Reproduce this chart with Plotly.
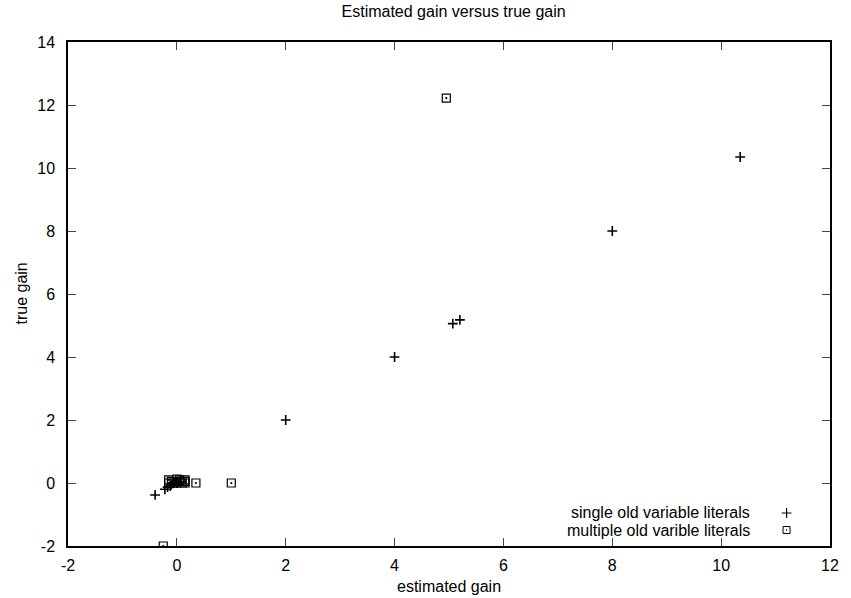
import plotly.graph_objects as go

# single old variable literals (+)
single_x = [-0.40, -0.22, -0.17, -0.12, -0.10, -0.05, 0.00, 0.05, 2.00, 4.00, 5.07, 5.20, 8.00, 10.35]
single_y = [-0.38, -0.20, -0.13, -0.10, -0.05, 0.00, 0.00, 0.05, 2.00, 4.00, 5.06, 5.18, 8.00, 10.35]

# multiple old varible literals (squares)
multi_x = [-0.15, -0.15, -0.10, -0.05, 0.00, 0.00, 0.05, 0.05, 0.10, 0.15, 0.15, 0.15, 0.35, 1.00, 4.95, -0.25]
multi_y = [0.10, 0.00, 0.05, 0.00, 0.12, 0.00, 0.10, 0.05, 0.00, 0.10, 0.05, 0.00, 0.00, 0.00, 12.22, -2.00]

series_names = ["single old variable literals", "multiple old varible literals"]
x_ticks = [-2, 0, 2, 4, 6, 8, 10, 12]
y_ticks = [-2, 0, 2, 4, 6, 8, 10, 12, 14]

FONT = "Liberation Sans, Arial, sans-serif"
FS = 16

fig = go.Figure()
fig.add_trace(go.Scatter(
    x=single_x, y=single_y, mode="markers", name=series_names[0], showlegend=False,
    marker=dict(symbol="cross-thin", size=7, line=dict(color="black", width=1.6), color="black"),
))
fig.add_trace(go.Scatter(
    x=multi_x, y=multi_y, mode="markers", name=series_names[1], showlegend=False,
    marker=dict(symbol="square-open-dot", size=8, color="black", line=dict(width=1.2)),
))

# legend keys on an overlay axis (0..1 coordinates)
fig.add_trace(go.Scatter(
    x=[0.943], y=[0.0655], xaxis="x2", yaxis="y2", mode="markers", showlegend=False, hoverinfo="skip",
    marker=dict(symbol="cross-thin", size=7, line=dict(color="black", width=1.2), color="black"),
))
fig.add_trace(go.Scatter(
    x=[0.943], y=[0.0317], xaxis="x2", yaxis="y2", mode="markers", showlegend=False, hoverinfo="skip",
    marker=dict(symbol="square-open-dot", size=7, color="black", line=dict(width=1)),
))
for i, name in enumerate(series_names):
    fig.add_annotation(
        x=0.8975, y=[0.0655, 0.0317][i], xref="paper", yref="paper", text=name,
        showarrow=False, xanchor="right", yanchor="middle",
        font=dict(family=FONT, size=FS, color="black"),
    )

# axis titles
fig.add_annotation(x=0.5, y=-0.0813, xref="paper", yref="paper", text="estimated gain",
                   showarrow=False, xanchor="center", yanchor="middle",
                   font=dict(family=FONT, size=FS, color="black"))
fig.add_annotation(x=-0.0623, y=0.5, xref="paper", yref="paper", text="true gain",
                   showarrow=False, xanchor="center", yanchor="middle", textangle=-90,
                   font=dict(family=FONT, size=FS, color="black"))

axis_common = dict(
    showgrid=False, zeroline=False, showline=True, linecolor="black", linewidth=1.5,
    mirror="ticks", ticks="inside", ticklen=8, tickcolor="#444", tickwidth=1,
    tickfont=dict(family=FONT, size=FS, color="black"),
)

fig.update_layout(
    width=851, height=598,
    margin=dict(l=68, r=12, t=42, b=52),
    paper_bgcolor="white", plot_bgcolor="white",
    title=dict(text="Estimated gain versus true gain", x=0.533, xanchor="center",
               y=0.99, yanchor="top", font=dict(family=FONT, size=FS, color="black")),
    xaxis=dict(range=[-2, 12], tickvals=x_ticks, ticktext=[str(v) for v in x_ticks],
               ticklabelstandoff=4, **axis_common),
    yaxis=dict(range=[-2, 14], tickvals=y_ticks, ticktext=[str(v) for v in y_ticks],
               ticklabelstandoff=8, **axis_common),
    xaxis2=dict(range=[0, 1], overlaying="x", visible=False, fixedrange=True),
    yaxis2=dict(range=[0, 1], overlaying="y", visible=False, fixedrange=True),
    showlegend=False,
)

fig.write_html("out.html", config={"displayModeBar": False},
               post_script="document.body.style.margin='0';")
